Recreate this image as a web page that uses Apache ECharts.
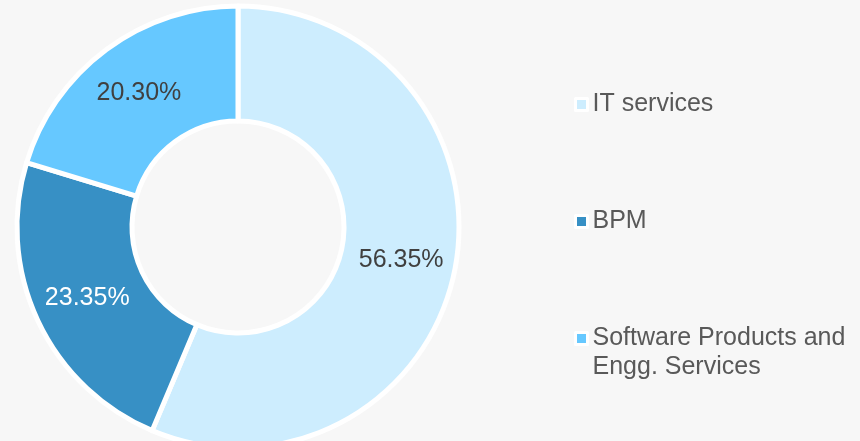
<!DOCTYPE html>
<html lang="en" style="height: 100%">
<head>
  <meta charset="utf-8">
</head>
<body style="height: 100%; margin: 0; background: #f7f7f7">
  <div id="container" style="width: 860px; height: 441px"></div>

  <script type="text/javascript" src="https://cdn.jsdelivr.net/npm/echarts@6/dist/echarts.min.js"></script>
  <script type="text/javascript">
    // segments and their shares (%)
    var categories = ['IT services', 'BPM', 'Software Products and\nEngg. Services'];
    var shares = [56.35, 23.35, 20.30];
    var colors = ['#cdedfe', '#3790c5', '#66c8ff'];
    var labelColors = ['#404040', '#ffffff', '#404040'];

    var dom = document.getElementById('container');
    var myChart = echarts.init(dom, null, { renderer: 'canvas' });

    var font = 'Arial, "Liberation Sans", sans-serif';

    var pieData = categories.map(function (name, i) {
      return {
        name: name,
        value: shares[i],
        itemStyle: { color: colors[i] },
        label: { color: labelColors[i] }
      };
    });

    // one legend per item; the two-line entry gets a leading blank line
    // so its icon sits next to the first text line
    var legendTops = [90, 207, 295];
    var legends = categories.map(function (name, i) {
      return {
        orient: 'vertical',
        left: 574,
        top: legendTops[i],
        padding: 0,
        data: [name],
        icon: 'rect',
        itemWidth: 12,
        itemHeight: 12,
        itemStyle: { borderColor: '#ffffff', borderWidth: 3 },
        selectedMode: false,
        formatter: function (n) {
          return n.indexOf('\n') >= 0 ? '\n' + n : n;
        },
        textStyle: {
          fontFamily: font,
          fontSize: 25,
          lineHeight: 29,
          color: '#595959'
        }
      };
    });

    var option = {
      backgroundColor: '#f7f7f7',
      animation: false,
      legend: legends,
      series: [
        {
          type: 'pie',
          center: [238, 227],
          radius: [106, 221],
          startAngle: 90,
          clockwise: true,
          avoidLabelOverlap: false,
          itemStyle: {
            borderColor: '#ffffff',
            borderWidth: 5
          },
          label: {
            show: true,
            position: 'inside',
            fontFamily: font,
            fontSize: 25,
            formatter: function (p) {
              return p.value.toFixed(2) + '%';
            }
          },
          labelLine: { show: false },
          emphasis: { disabled: true },
          data: pieData
        }
      ]
    };

    myChart.setOption(option);
    window.addEventListener('resize', myChart.resize);
  </script>
</body>
</html>
